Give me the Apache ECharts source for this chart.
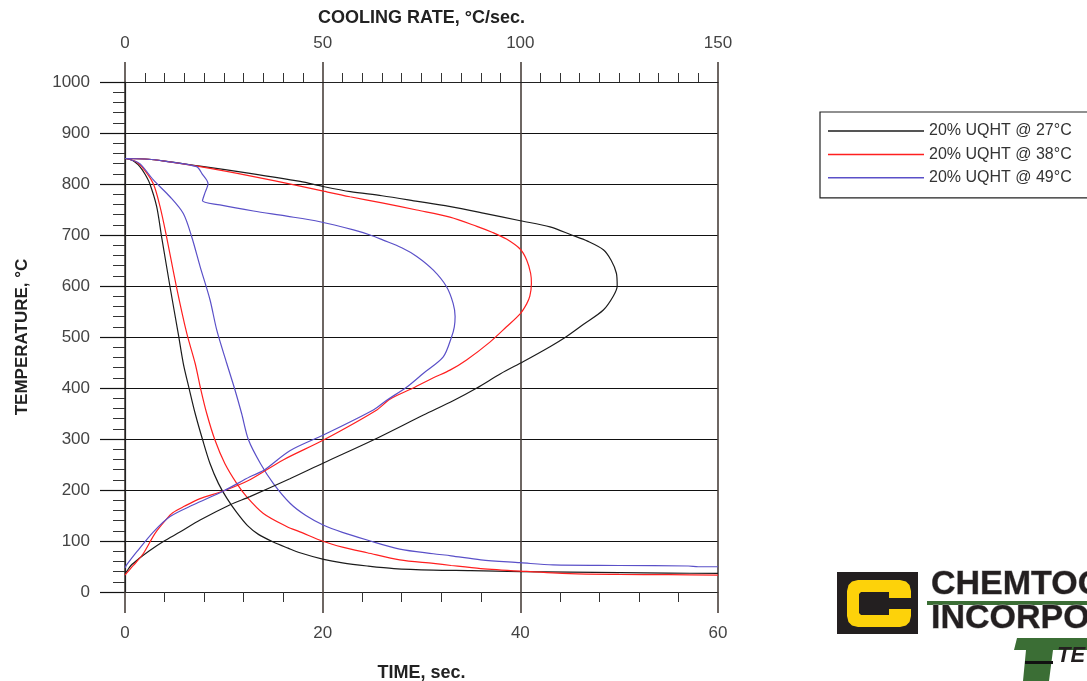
<!DOCTYPE html>
<html>
<head>
<meta charset="utf-8">
<title>20% UQHT cooling curves</title>
<script src="https://cdn.jsdelivr.net/npm/echarts@6.0.0/dist/echarts.min.js"></script>
<style>
    html, body { margin: 0; padding: 0; background: #fff; }
    #chart { width: 1087px; height: 681px; }
</style>
</head>
<body>
<div id="chart"></div>
<script>
var names = ['20% UQHT @ 27°C', '20% UQHT @ 38°C', '20% UQHT @ 49°C'];
var colors = ['#1c1c1c', '#ff1f1f', '#5a50c8'];

// cooling curves: time (sec) -> temperature (°C)
var time27 = [0, 0.5, 1, 1.5, 2, 2.5, 3.2, 3.7, 4.55, 5.4, 5.9, 6.5, 7.1, 7.86, 8.6, 9.45, 10.3, 11.3, 12.4, 13.5, 15, 16.5, 17.7, 20.1, 22, 24.5, 27.2, 31.2, 35, 40, 45, 50, 55, 60];
var temp27 = [850, 848, 843, 834, 820, 801, 756, 697, 599, 505, 448, 398, 350, 298, 252, 213, 184, 156, 130, 113, 98, 86, 77, 64, 57, 51, 46, 43, 42, 40, 39, 38, 37, 36.5];

var time38 = [0, 0.5, 1, 1.7, 2.85, 3.54, 4.2, 5.2, 6.24, 7.1, 7.66, 8.27, 9.1, 10.1, 11.3, 12.3, 14, 16.4, 17.7, 20.1, 22, 24.5, 27.8, 31.2, 33, 36, 40, 45, 50, 55, 60];
var temp38 = [850, 848, 845, 834, 801, 756, 697, 599, 508, 448, 398, 350, 298, 252, 213, 187, 154, 128, 118, 99, 88, 77, 63, 56, 52, 46, 41, 36, 34.5, 34, 33];

var time49 = [0, 0.5, 1.5, 2.87, 4.55, 5.9, 6.74, 7.6, 8.6, 9.28, 10.3, 11.1, 11.8, 12.5, 13.7, 15, 16.7, 18.3, 20.1, 22, 24.5, 27.8, 31.2, 33, 36, 40, 43.3, 50, 57, 58, 60];
var temp49 = [850, 848, 840, 808, 775, 742, 697, 638, 573, 514, 448, 398, 350, 298, 252, 213, 174, 150, 131, 117, 102, 84, 75, 71, 63, 57.5, 53, 52, 51, 49.5, 49.5];

// cooling rate curves: rate (°C/sec) -> temperature (°C)
var rate27 = [0, 5, 10, 19, 31.6, 44.3, 50.2, 57, 65, 74, 82, 90.6, 100, 107.5, 113, 117, 121, 123, 124.3, 124.5, 123.5, 121, 116, 111.7, 107.5, 100.8, 95, 89, 83, 75.5, 62.8, 50.2, 41.7, 31.6, 26.6, 19, 14, 9.7, 6, 3.8, 1.5, 0.4, 0];
var rateTemp27 = [850, 849, 845, 835, 821, 805, 795, 785, 777, 766, 756, 743, 728, 716, 700, 688, 671, 650, 625, 600, 580, 553, 525, 501, 481, 452, 428, 400, 375, 347, 298, 253, 222, 187, 171, 141, 118, 99, 80, 67, 52, 40, 36.6];

var rate38 = [0, 5, 10, 19, 31.6, 44.3, 50.2, 56.9, 65, 73.8, 82.2, 89, 93, 96.5, 100, 101.6, 102.6, 102.8, 102.4, 101.6, 100, 96.5, 92.3, 86.4, 82.2, 78, 72.9, 67, 63.7, 50.2, 40, 31.6, 24.9, 19, 15, 12, 10.5, 7.6, 4.6, 2.1, 0.4, 0];
var rateTemp38 = [850, 849, 845, 834, 816, 796, 786, 775, 763, 749, 735, 717, 705, 692, 672, 651, 625, 605, 580, 565, 546, 520, 490, 455, 435, 420, 400, 378, 357, 298, 259, 220, 198, 183, 168, 155, 143, 115, 75, 52, 37, 33];

var rate49 = [0, 5, 10, 18.1, 19.5, 21, 20.2, 19.6, 24, 32.5, 40.9, 49.3, 57.8, 62, 65.3, 70, 73.8, 78, 81.3, 83, 83.5, 83.3, 82.6, 80.5, 75.5, 71.3, 66.2, 62.8, 50.2, 41.7, 35, 31.6, 24.9, 17.3, 11.4, 7.2, 3, 0.4, 0];
var rateTemp49 = [850, 849, 845, 834, 820, 801, 782, 767, 759, 747, 737, 726, 710, 700, 690, 675, 658, 631, 599, 566, 540, 520, 500, 461, 429, 402, 376, 357, 308, 277, 238, 226, 198, 171, 148, 118, 79, 53, 47];

var font = '"Liberation Sans", Arial, sans-serif';
var gridColor = '#4a403c';

function pairs(xs, ys) {
    return xs.map(function (x, i) { return [x, ys[i]]; });
}

function curve(idx, axisIdx, xs, ys) {
    return {
        name: names[idx],
        type: 'line',
        xAxisIndex: axisIdx,
        yAxisIndex: 0,
        symbol: 'none',
        smooth: 0.3,
        lineStyle: { color: colors[idx], width: 1.2 },
        itemStyle: { color: colors[idx] },
        data: pairs(xs, ys)
    };
}

var chart = echarts.init(document.getElementById('chart'), null, { renderer: 'canvas' });

var option = {
    animation: false,
    backgroundColor: '#fff',
    textStyle: { fontFamily: font },
    grid: { left: 125, right: 369, top: 82, bottom: 89, containLabel: false, outerBoundsMode: 'none' },
    legend: {
        data: names,
        orient: 'vertical',
        left: 820,
        top: 112,
        padding: [11, 24, 12, 8],
        icon: 'rect',
        itemWidth: 96,
        itemHeight: 1.5,
        itemGap: 7.4,
        borderColor: '#222',
        borderWidth: 1.2,
        textStyle: { fontSize: 16, color: '#333', fontFamily: font }
    },
    xAxis: [
        {
            type: 'value', position: 'bottom', min: 0, max: 60, interval: 20,
            name: 'TIME, sec.', nameLocation: 'middle', nameGap: 72,
            nameTextStyle: { fontWeight: 'bold', fontSize: 18, color: '#222', fontFamily: font },
            axisLine: { show: true, onZero: false, lineStyle: { color: '#222', width: 1.2 } },
            axisTick: { show: true, length: 21, lineStyle: { color: gridColor, width: 1.6 } },
            minorTick: { show: true, splitNumber: 5, length: 10, lineStyle: { color: '#333', width: 1 } },
            axisLabel: { margin: 33, fontSize: 17, color: '#444', fontFamily: font },
            splitLine: { show: true, lineStyle: { color: gridColor, width: 1.6 } }
        },
        {
            type: 'value', position: 'top', min: 0, max: 150, interval: 50,
            name: 'COOLING RATE, °C/sec.', nameLocation: 'middle', nameGap: 55,
            nameTextStyle: { fontWeight: 'bold', fontSize: 18, color: '#222', fontFamily: font },
            axisLine: { show: true, onZero: false, lineStyle: { color: '#222', width: 1.2 } },
            axisTick: { show: true, length: 20, lineStyle: { color: gridColor, width: 1.6 } },
            minorTick: { show: true, splitNumber: 10, length: 9, lineStyle: { color: '#333', width: 1 } },
            axisLabel: { margin: 30, fontSize: 17, color: '#444', fontFamily: font },
            splitLine: { show: false }
        }
    ],
    yAxis: {
        type: 'value', min: 0, max: 1000, interval: 100,
        name: 'TEMPERATURE, °C', nameLocation: 'middle', nameGap: 94, nameRotate: 90,
        nameTextStyle: { fontWeight: 'bold', fontSize: 17, color: '#222', fontFamily: font },
        axisLine: { show: true, onZero: false, lineStyle: { color: '#222', width: 1.2 } },
        axisTick: { show: true, length: 25, lineStyle: { color: '#111', width: 1.2 } },
        minorTick: { show: true, splitNumber: 5, length: 12, lineStyle: { color: '#333', width: 1 } },
        axisLabel: { margin: 35, fontSize: 17, color: '#444', fontFamily: font, formatter: function (v) { return String(v); } },
        splitLine: { show: true, lineStyle: { color: '#111', width: 1.2 } }
    },
    series: [
        curve(0, 0, time27, temp27),
        curve(1, 0, time38, temp38),
        curve(2, 0, time49, temp49),
        curve(0, 1, rate27, rateTemp27),
        curve(1, 1, rate38, rateTemp38),
        curve(2, 1, rate49, rateTemp49)
    ],
    // Chemtool logo, bottom right
    graphic: [
        { type: 'rect', shape: { x: 837, y: 572, width: 81, height: 62 }, style: { fill: '#231f20' } },
        {
            type: 'polygon',
            shape: { points: [[858, 580], [900, 580], [906, 581.5], [909.5, 585], [911, 591], [911, 598], [889, 598], [889, 592], [861, 592], [859, 594], [859, 613], [861, 615], [889, 615], [889, 609], [911, 609], [911, 616], [909.5, 622], [906, 625.5], [900, 627], [858, 627], [852, 625.5], [848.5, 622], [847, 616], [847, 591], [848.5, 585], [852, 581.5]] },
            style: { fill: '#fdd20a' }
        },
        {
            type: 'text', x: 931, y: 585,
            style: { text: 'CHEMTOOL', font: 'bold 34px "Liberation Sans"', fill: '#231f20', stroke: '#a0a0a0', lineWidth: 0.8, verticalAlign: 'middle', textVerticalAlign: 'middle' }
        },
        { type: 'rect', shape: { x: 927, y: 601, width: 170, height: 4 }, style: { fill: '#3b6e35' } },
        {
            type: 'text', x: 931, y: 619,
            style: { text: 'INCORPORATED', font: 'bold 34px "Liberation Sans"', fill: '#231f20', stroke: '#a0a0a0', lineWidth: 0.8, verticalAlign: 'middle', textVerticalAlign: 'middle' }
        },
        {
            type: 'polygon',
            shape: { points: [[1017, 638], [1090, 638], [1088, 650], [1053, 650], [1049, 681], [1023, 681], [1026, 650], [1014, 650]] },
            style: { fill: '#3b6e35' }
        },
        { type: 'rect', shape: { x: 1025, y: 661, width: 28, height: 3 }, style: { fill: '#111' } },
        {
            type: 'text', x: 1057, y: 656,
            style: { text: 'TE', font: 'italic bold 22px "Liberation Sans"', fill: '#231f20', verticalAlign: 'middle', textVerticalAlign: 'middle' }
        }
    ]
};

chart.setOption(option);
</script>
</body>
</html>
